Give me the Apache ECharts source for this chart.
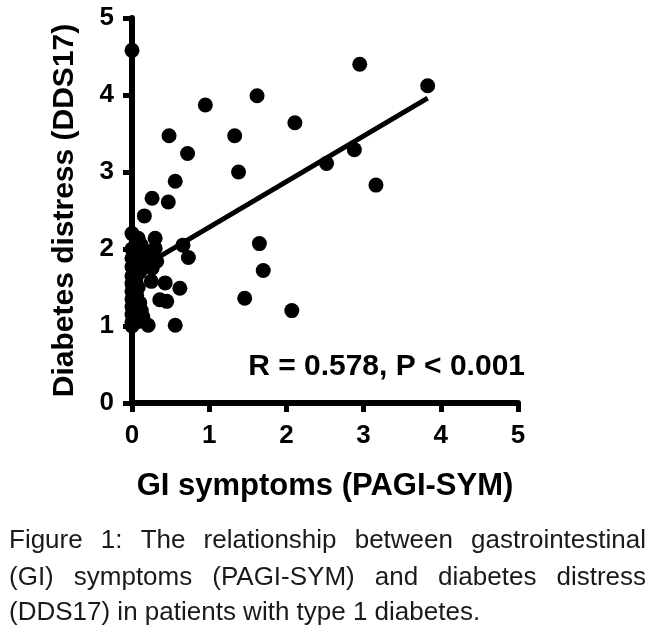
<!DOCTYPE html>
<html><head><meta charset="utf-8">
<script src="https://cdn.jsdelivr.net/npm/echarts@6/dist/echarts.min.js"></script>
<style>html,body{margin:0;padding:0;background:#fff}#c{width:657px;height:639px}</style>
</head><body><div id="c"></div>
<script>
// ---- data ----
const xTicks = [0, 1, 2, 3, 4, 5];
const yTicks = [0, 1, 2, 3, 4, 5];
const giSym = [
  0, 0, 0, 0, 0, 0, 0, 0, 0, 0, 0, 0, 0,
  0.08, 0.05, 0.10, 0.08, 0.10, 0.08, 0.12, 0.10, 0.05, 0.06,
  0.16, 0.26, 0.47, 0.56, 0.48, 0.72, 0.95, 1.33, 1.38, 1.62, 2.11, 2.95, 3.83, 2.88, 2.52, 3.16, 1.65, 1.70, 1.46, 2.07,
  0.30, 0.32, 0.21, 0.30, 0.17, 0.66, 0.73, 0.26, 0.25, 0.43, 0.62, 0.36, 0.45, 0.21, 0.56, 0.14, 0.12
];
const dds17 = [
  4.58, 2.20, 2.00, 1.88, 1.77, 1.65, 1.55, 1.45, 1.35, 1.25, 1.15, 1.05, 1.00,
  2.14, 1.95, 1.70, 1.50, 1.30, 1.06, 1.20, 1.85, 1.60, 1.40,
  2.43, 2.66, 2.61, 2.88, 3.47, 3.24, 3.87, 3.47, 3.00, 3.99, 3.64, 4.40, 4.12, 3.29, 3.11, 2.83, 2.07, 1.72, 1.36, 1.20,
  2.14, 1.84, 1.95, 2.01, 1.79, 2.05, 1.89, 1.75, 1.58, 1.56, 1.49, 1.34, 1.32, 1.01, 1.01, 1.12, 2.05
];
const fitX = [0, 3.83];
const fitY = [1.69, 3.96];
const statText = 'R = 0.578, P < 0.001';
const xTitle = 'GI symptoms (PAGI-SYM)';
const yTitle = 'Diabetes distress (DDS17)';
const captionLines = [
  'Figure 1: The relationship between gastrointestinal',
  '(GI) symptoms (PAGI-SYM) and diabetes distress',
  '(DDS17) in patients with type 1 diabetes.'
];

// ---- build ----
const FONT = '"Liberation Sans", Arial, Helvetica, sans-serif';
const chart = echarts.init(document.getElementById('c'), null, {renderer: 'canvas'});
const pts = giSym.map((x, i) => [x, dds17[i]]);
const fit = fitX.map((x, i) => [x, fitY[i]]);

// caption layout (justified, slightly condensed)
const capFontSize = 26;
const capFont = capFontSize + 'px ' + FONT;
const cnv = document.createElement('canvas').getContext('2d');
cnv.font = capFont;
const capLeft = 9, capRight = 646;
const capY = [541, 578, 613];
const capScale = Math.min(1, (capRight - capLeft) * 0.99 / cnv.measureText(captionLines[0]).width);
const graphics = [];
captionLines.forEach((line, li) => {
  const justify = li < captionLines.length - 1;
  if (!justify) {
    graphics.push({type: 'text', x: capLeft, y: capY[li], scaleX: capScale,
      style: {text: line, font: capFont, fill: '#1a1a1a', textAlign: 'left', textVerticalAlign: 'middle'}});
    return;
  }
  const words = line.split(' ');
  const widths = words.map(w => cnv.measureText(w).width * capScale);
  const total = widths.reduce((a, b) => a + b, 0);
  const gap = (capRight - capLeft - total) / (words.length - 1);
  let x = capLeft;
  words.forEach((w, wi) => {
    graphics.push({type: 'text', x: x, y: capY[li], scaleX: capScale,
      style: {text: w, font: capFont, fill: '#1a1a1a', textAlign: 'left', textVerticalAlign: 'middle'}});
    x += widths[wi] + gap;
  });
});
graphics.push({type: 'text', x: 525, y: 367, style: {text: statText, font: 'bold 30px ' + FONT, fill: '#000', textAlign: 'right', textVerticalAlign: 'middle'}});

const axisCommon = {
  type: 'value', min: 0, max: 5, interval: 1,
  axisLine: {show: true, onZero: false, lineStyle: {color: '#000', width: 6}},
  axisTick: {show: true, inside: false, length: 9, lineStyle: {color: '#000', width: 5}},
  splitLine: {show: false},
  nameLocation: 'middle',
  nameTextStyle: {fontFamily: FONT, fontWeight: 'bold', fontSize: 30, color: '#000'}
};

chart.setOption({
  animation: false,
  backgroundColor: '#fff',
  grid: {left: 132, right: 139, top: 18, bottom: 236, containLabel: false},
  xAxis: Object.assign({}, axisCommon, {
    name: xTitle, nameGap: 68,
    nameTextStyle: {fontFamily: FONT, fontWeight: 'bold', fontSize: 31, color: '#000'},
    axisLabel: {margin: 20, fontFamily: FONT, fontWeight: 'bold', fontSize: 26, color: '#000',
      formatter: v => xTicks.includes(v) ? String(v) : ''}
  }),
  yAxis: Object.assign({}, axisCommon, {
    name: yTitle, nameGap: 52, nameRotate: 90,
    axisLabel: {margin: 18, fontFamily: FONT, fontWeight: 'bold', fontSize: 26, color: '#000',
      formatter: v => yTicks.includes(v) ? String(v) : ''}
  }),
  series: [
    {type: 'scatter', data: pts, symbol: 'circle', symbolSize: 15, itemStyle: {color: '#000', opacity: 1}, z: 3},
    {type: 'line', data: fit, showSymbol: false, symbol: 'none', lineStyle: {color: '#000', width: 5}, z: 4}
  ],
  graphic: graphics
});
</script>
</body></html>
